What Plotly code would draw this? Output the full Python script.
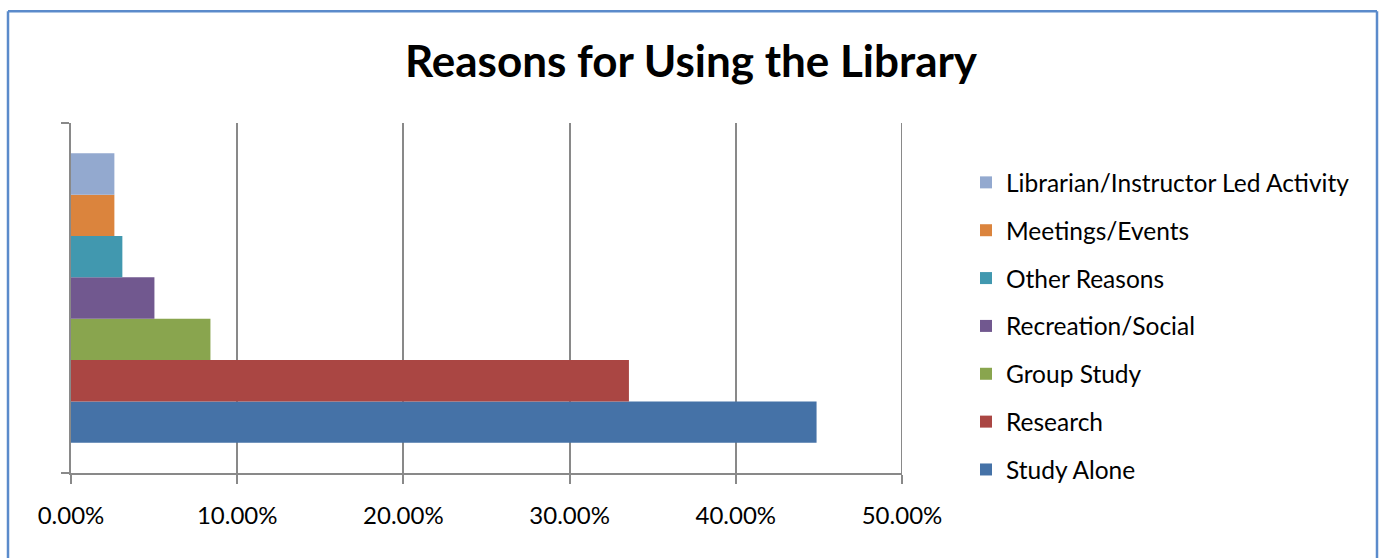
import plotly.graph_objects as go

series_names = ["Study Alone", "Research", "Group Study", "Recreation/Social",
                "Other Reasons", "Meetings/Events", "Librarian/Instructor Led Activity"]
series_values = [0.4486, 0.3357, 0.0839, 0.0502, 0.0309, 0.0261, 0.0261]
series_colors = ["#4572A7", "#AA4643", "#89A54E", "#71588F", "#4198AF", "#DB843D", "#93A9CF"]
category = ["Reasons"]
x_ticks = [0, 0.1, 0.2, 0.3, 0.4, 0.5]

W, H = 1382, 558
L, R, T, B = 71, W - 902, 123, H - 473.5
pw, ph = W - L - R, H - T - B

FONT = "Lato"
fig = go.Figure()
n = len(series_names)
for i, (name, val, col) in enumerate(zip(series_names, series_values, series_colors)):
    fig.add_trace(go.Bar(
        x=[val], y=category, name=name, orientation="h",
        marker=dict(color=col, line=dict(width=0)),
        legendgroup=name, legendrank=100 * (n - i), hoverinfo="x+name",
    ))

def px_x(x):
    return (x - L) / pw

def px_y(y):
    return (H - B - y) / ph

grey = "#898989"
border = "#5B8BCB"
shapes = [
    dict(type="line", xref="paper", yref="paper", x0=px_x(8), x1=px_x(8), y0=px_y(11), y1=px_y(600),
         line=dict(color=border, width=2.5)),
    dict(type="line", xref="paper", yref="paper", x0=px_x(8), x1=px_x(1377), y0=px_y(11), y1=px_y(11),
         line=dict(color=border, width=2.5)),
    dict(type="line", xref="paper", yref="paper", x0=px_x(1377), x1=px_x(1377), y0=px_y(11), y1=px_y(600),
         line=dict(color=border, width=2.5)),
    # gridline at the last tick (range edge), which plotly omits
    dict(type="line", xref="x", yref="paper", x0=x_ticks[-1], x1=x_ticks[-1], y0=0, y1=1,
         line=dict(color=grey, width=2), layer="below"),
]

fig.update_layout(
    width=W, height=H,
    margin=dict(l=L, r=R, t=T, b=B, pad=0),
    paper_bgcolor="white", plot_bgcolor="white",
    barmode="group", bargap=0.173, bargroupgap=0,
    title=dict(text="<b>Reasons for Using the Library</b>", x=691 / W, xanchor="center",
               xref="container", yref="container", y=1 - 62 / H, yanchor="middle",
               font=dict(family=FONT, size=44, color="black")),
    xaxis=dict(range=[0, 0.5], tickvals=x_ticks, tickformat=".2%",
               showgrid=True, gridcolor=grey, gridwidth=2,
               showline=True, linecolor=grey, linewidth=2,
               ticks="outside", ticklen=9, tickwidth=2, tickcolor=grey,
               ticklabelstandoff=11,
               zeroline=False, fixedrange=True,
               tickfont=dict(family=FONT, size=24, color="black")),
    yaxis=dict(type="category", showticklabels=False, tickson="boundaries",
               ticks="outside", ticklen=8, tickwidth=2, tickcolor=grey,
               showline=True, linecolor=grey, linewidth=2,
               showgrid=False, zeroline=False, fixedrange=True),
    legend=dict(x=px_x(966), xanchor="left", y=px_y(160), yanchor="top",
                traceorder="grouped", tracegroupgap=13,
                font=dict(family=FONT, size=24.5, color="black"),
                bgcolor="rgba(0,0,0,0)"),
    shapes=shapes,
    showlegend=True,
)

fig.write_html("out.html")
